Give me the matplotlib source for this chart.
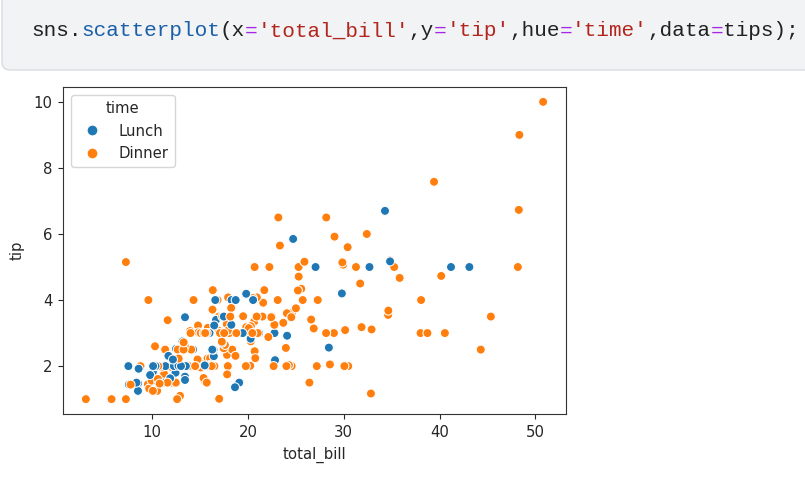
import matplotlib
matplotlib.use('Agg')
import matplotlib.pyplot as plt
from matplotlib.lines import Line2D
from matplotlib.patches import FancyBboxPatch

# tips data (total_bill, tip, time) in row order
total_bill = [
    16.99, 10.34, 21.01, 23.68, 24.59, 25.29, 8.77, 26.88, 15.04, 14.78,
    10.27, 35.26, 15.42, 18.43, 14.83, 21.58, 10.33, 16.29, 16.97, 20.65,
    17.92, 20.29, 15.77, 39.42, 19.82, 17.81, 13.37, 12.69, 21.70, 19.65,
    9.55, 18.35, 15.06, 20.69, 17.78, 24.06, 16.31, 16.93, 18.69, 31.27,
    16.04, 17.46, 13.94, 9.68, 30.40, 18.29, 22.23, 32.40, 28.55, 18.04,
    12.54, 10.29, 34.81, 9.94, 25.56, 19.49, 38.01, 26.41, 11.24, 48.27,
    20.29, 13.81, 11.02, 18.29, 17.59, 20.08, 16.45, 3.07, 20.23, 15.01,
    12.02, 17.07, 26.86, 25.28, 14.73, 10.51, 17.92, 27.20, 22.76, 17.29,
    19.44, 16.66, 10.07, 32.68, 15.98, 34.83, 13.03, 18.28, 24.71, 21.16,
    28.97, 22.49, 5.75, 16.32, 22.75, 40.17, 27.28, 12.03, 21.01, 12.46,
    11.35, 15.38, 44.30, 22.42, 20.92, 15.36, 20.49, 25.21, 18.24, 14.31,
    14.00, 7.25, 38.07, 23.95, 25.71, 17.31, 29.93, 10.65, 12.43, 24.08,
    11.69, 13.42, 14.26, 15.95, 12.48, 29.80, 8.52, 14.52, 11.38, 22.82,
    19.08, 20.27, 11.17, 12.26, 18.26, 8.51, 10.33, 14.15, 16.00, 13.16,
    17.47, 34.30, 41.19, 27.05, 16.43, 8.35, 18.64, 11.87, 9.78, 7.51,
    14.07, 13.13, 17.26, 24.55, 19.77, 29.85, 48.17, 25.00, 13.39, 16.49,
    21.50, 12.66, 16.21, 13.81, 17.51, 24.52, 20.76, 31.71, 10.59, 10.63,
    50.81, 15.81, 7.25, 31.85, 16.82, 32.90, 17.89, 14.48, 9.60, 34.63,
    34.65, 23.33, 45.35, 23.17, 40.55, 20.69, 20.90, 30.46, 18.15, 23.10,
    15.69, 19.81, 28.44, 15.48, 16.58, 7.56, 10.34, 43.11, 13.00, 13.51,
    18.71, 12.74, 13.00, 16.40, 20.53, 16.47, 26.59, 38.73, 24.27, 12.76,
    30.06, 25.89, 48.33, 13.27, 28.17, 12.90, 28.15, 11.59, 7.74, 30.14,
    12.16, 13.42, 8.58, 15.98, 13.42, 16.27, 10.09, 20.45, 13.28, 22.12,
    24.01, 15.69, 11.61, 10.77, 15.53, 10.07, 12.60, 32.83, 35.83, 29.03,
    27.18, 22.67, 17.82, 18.78]

tip = [
    1.01, 1.66, 3.50, 3.31, 3.61, 4.71, 2.00, 3.12, 1.96, 3.23,
    1.71, 5.00, 1.57, 3.00, 3.02, 3.92, 1.67, 3.71, 3.50, 3.35,
    4.08, 2.75, 2.23, 7.58, 3.18, 2.34, 2.00, 2.00, 4.30, 3.00,
    1.45, 2.50, 3.00, 2.45, 3.27, 3.60, 2.00, 3.07, 2.31, 5.00,
    2.24, 2.54, 3.06, 1.32, 5.60, 3.00, 5.00, 6.00, 2.05, 3.00,
    2.50, 2.60, 5.20, 1.56, 4.34, 3.51, 3.00, 1.50, 1.76, 6.73,
    3.21, 2.00, 1.98, 3.76, 2.64, 3.15, 2.47, 1.00, 2.01, 2.09,
    1.97, 3.00, 3.14, 5.00, 2.20, 1.25, 3.08, 4.00, 3.00, 2.71,
    3.00, 3.40, 1.83, 5.00, 2.03, 5.17, 2.00, 4.00, 5.85, 3.00,
    3.00, 3.50, 1.00, 4.30, 3.25, 4.73, 4.00, 1.50, 3.00, 1.50,
    2.50, 3.00, 2.50, 3.48, 4.08, 1.64, 4.06, 4.29, 3.76, 4.00,
    3.00, 1.00, 4.00, 2.55, 4.00, 3.50, 5.07, 1.50, 1.80, 2.92,
    2.31, 1.68, 2.50, 2.00, 2.52, 4.20, 1.48, 2.00, 2.00, 2.18,
    1.50, 2.83, 1.50, 2.00, 3.25, 1.25, 2.00, 2.00, 2.00, 2.75,
    3.50, 6.70, 5.00, 5.00, 2.30, 1.50, 1.36, 1.63, 1.73, 2.00,
    2.50, 2.00, 2.74, 2.00, 2.00, 5.14, 5.00, 3.75, 2.61, 2.00,
    3.50, 2.50, 2.00, 2.00, 3.00, 3.48, 2.24, 4.50, 1.61, 2.00,
    10.00, 3.16, 5.15, 3.18, 4.00, 3.11, 2.00, 2.00, 4.00, 3.55,
    3.68, 5.65, 3.50, 6.50, 3.00, 5.00, 3.50, 2.00, 3.50, 4.00,
    1.50, 4.19, 2.56, 2.02, 4.00, 1.44, 2.00, 5.00, 2.00, 2.00,
    4.00, 2.01, 2.00, 2.50, 4.00, 3.23, 3.41, 3.00, 2.03, 2.23,
    2.00, 5.16, 9.00, 2.50, 6.50, 1.10, 3.00, 1.50, 1.44, 3.09,
    2.20, 3.48, 1.92, 3.00, 1.58, 2.50, 2.00, 3.00, 2.72, 2.88,
    2.00, 3.00, 3.39, 1.47, 3.00, 1.25, 1.00, 1.17, 4.67, 5.92,
    2.00, 2.00, 1.75, 3.00]

# L = Lunch, D = Dinner, ten rows per group
time_codes = ("DDDDDDDDDD DDDDDDDDDD DDDDDDDDDD DDDDDDDDDD DDDDDDDDDD "
              "DDDDDDDDDD DDDDDDDDDD DDDDDDDLLL LLLLLLLLLL DDDDDDDDDD "
              "DDDDDDDDDD DDDDDDDLLL LLLLLLLLLL LLLLLLLLLL LLLLLLLLLL "
              "DDDDDDDDDD DDDDDDDDDD DDDDDDDDDD DDDDDDDDDD DLLLLLLLLL "
              "LLLLLLDDDD DDDDDDDDDD LLLLLLLDDD DDDDDDDDDD DDDD").replace(' ', '')
time_names = {'L': 'Lunch', 'D': 'Dinner'}
hue_order = ['Lunch', 'Dinner']
palette = {'Lunch': '#1f77b4', 'Dinner': '#ff7f0e'}

time = [time_names[c] for c in time_codes]
colors = [palette[t] for t in time]

fs = 10.7  # font size of the plot texts
fig = plt.figure(figsize=(8.05, 4.84), dpi=100)

# notebook code cell on top
cell = FancyBboxPatch((2, 414), 840, 100, boxstyle='round,pad=0,rounding_size=8',
                      transform=None, facecolor='#f1f3f4', edgecolor='#dadce0',
                      linewidth=1.0, zorder=0)
fig.patches.append(cell)

code_parts = [("sns.", '#212121'), ("scatterplot", '#1a5fa8'), ("(x", '#212121'),
              ("=", '#a626e8'), ("'total_bill'", '#b3261e'), (",y", '#212121'),
              ("=", '#a626e8'), ("'tip'", '#b3261e'), (",hue", '#212121'),
              ("=", '#a626e8'), ("'time'", '#b3261e'), (",data", '#212121'),
              ("=", '#a626e8'), ("tips);", '#212121')]
char_w = 12.58
pos = 0
for txt, col in code_parts:
    fig.text((31 + pos * char_w) / 805, 1 - 31 / 484, txt, color=col,
             fontsize=15.1, family='Liberation Mono', va='center', ha='left')
    pos += len(txt)

ax = fig.add_axes([63 / 805, 70 / 484, 503 / 805, 327 / 484])
ax.scatter(total_bill, tip, c=colors, s=42, edgecolors='white', linewidths=0.75)
ax.set_xlabel('total_bill', fontsize=fs, color='#262626', labelpad=5)
ax.set_ylabel('tip', fontsize=fs, color='#262626', labelpad=6)
ax.set_xticks([10, 20, 30, 40, 50])
ax.set_yticks([2, 4, 6, 8, 10])
ax.tick_params(labelsize=fs, length=3.8, pad=4, colors='#262626')
for sp in ax.spines.values():
    sp.set_color('#333333')

handles = [Line2D([], [], marker='o', linestyle='', color=palette[h],
                  markeredgecolor='white', markersize=8) for h in hue_order]
leg = ax.legend(handles, hue_order, title='time', loc='upper left', fontsize=fs,
                title_fontsize=fs, borderaxespad=0.55)
for t in leg.get_texts():
    t.set_color('#262626')
leg.get_title().set_color('#262626')

plt.savefig('out.png', dpi=100)
